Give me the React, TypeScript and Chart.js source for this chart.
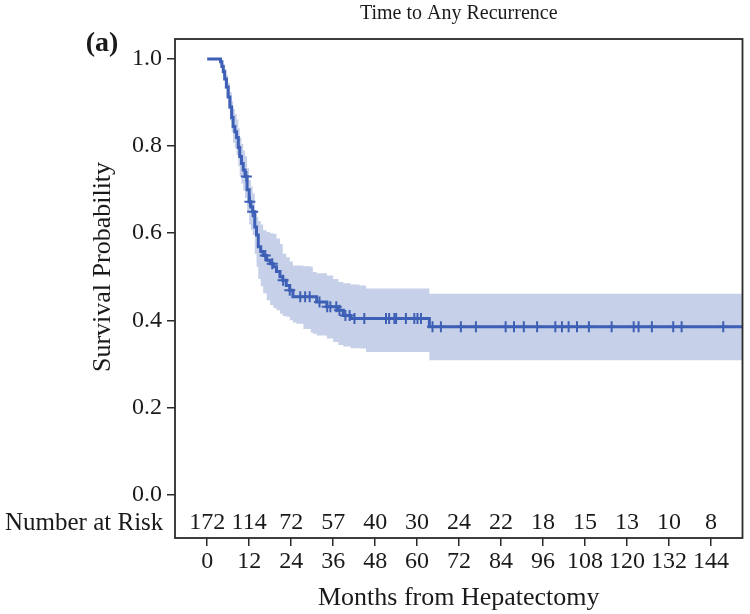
import { useEffect, useRef } from 'react';
import { Chart, registerables } from 'chart.js';

Chart.register(...registerables);

// Kaplan-Meier estimate (months, survival)
const times = [0, 3.8, 4.2, 4.6, 5.0, 5.5, 6.0, 6.5, 7.0, 7.4, 7.9, 8.4, 8.9, 9.3, 9.8, 10.3, 10.8, 11.4, 12.0, 12.5, 13.0, 13.6, 14.1, 14.6, 15.3, 16.0, 17.0, 18.0, 18.9, 19.8, 20.8, 21.6, 22.6, 23.6, 24.5, 25.5, 27.5, 29.6, 30.2, 31.3, 34.2, 36.0, 37.5, 38.9, 41.0, 43.5, 45.4, 63.5, 153];
const survival = [1, 0.994, 0.983, 0.971, 0.954, 0.936, 0.913, 0.890, 0.866, 0.845, 0.833, 0.820, 0.797, 0.776, 0.760, 0.745, 0.730, 0.700, 0.672, 0.660, 0.649, 0.614, 0.596, 0.569, 0.558, 0.549, 0.538, 0.530, 0.523, 0.512, 0.500, 0.492, 0.480, 0.469, 0.454, 0.454, 0.454, 0.454, 0.454, 0.442, 0.431, 0.431, 0.423, 0.411, 0.404, 0.404, 0.404, 0.385, 0.385];
const upperCI = [1, 0.999, 0.994, 0.988, 0.977, 0.963, 0.945, 0.924, 0.903, 0.885, 0.874, 0.861, 0.841, 0.820, 0.805, 0.790, 0.777, 0.749, 0.722, 0.707, 0.691, 0.652, 0.637, 0.628, 0.620, 0.607, 0.603, 0.600, 0.598, 0.588, 0.575, 0.553, 0.545, 0.535, 0.526, 0.526, 0.524, 0.523, 0.511, 0.508, 0.503, 0.495, 0.488, 0.485, 0.482, 0.480, 0.473, 0.461, 0.461];
const lowerCI = [1, 0.986, 0.970, 0.954, 0.932, 0.911, 0.885, 0.859, 0.832, 0.808, 0.795, 0.779, 0.754, 0.730, 0.714, 0.698, 0.681, 0.649, 0.620, 0.608, 0.596, 0.552, 0.523, 0.495, 0.478, 0.462, 0.446, 0.435, 0.428, 0.423, 0.415, 0.410, 0.408, 0.400, 0.395, 0.392, 0.380, 0.372, 0.369, 0.365, 0.358, 0.350, 0.343, 0.340, 0.336, 0.335, 0.327, 0.308, 0.308];

// censoring times (months)
const censorTimes = [11.2, 12.2, 13.0, 16.6, 18.6, 21.7, 23.6, 26.6, 28.0, 29.3, 32.1, 34.3, 35.2, 36.9, 37.8, 39.5, 40.7, 42.1, 44.9, 51.1, 52.0, 53.5, 54.0, 56.8, 59.2, 60.1, 61.1, 64.4, 66.8, 72.5, 76.8, 85.3, 87.7, 90.5, 94.3, 99.5, 101.4, 103.3, 105.7, 109.1, 115.6, 121.9, 123.3, 127.1, 133.2, 135.6, 147.5];

const xTicks = [0, 12, 24, 36, 48, 60, 72, 84, 96, 108, 120, 132, 144];
const atRisk = [172, 114, 72, 57, 40, 30, 24, 22, 18, 15, 13, 10, 8];
const yTicks = [0, 0.2, 0.4, 0.6, 0.8, 1.0];

const LINE = '#3d5fb5';
const BAND = '#c6d0e8';
const FONT = "'Liberation Serif', 'Times New Roman', serif";

function survAt(t: number): number {
  let v = survival[0];
  for (let i = 0; i < times.length; i++) {
    if (times[i] <= t) v = survival[i];
  }
  return v;
}

const decor = {
  id: 'decor',
  afterDatasetsDraw(chart: any) {
    const { ctx, chartArea } = chart;
    ctx.save();
    ctx.strokeStyle = '#2a2a2a';
    ctx.lineWidth = 1.8;
    ctx.strokeRect(chartArea.left, chartArea.top, chartArea.right - chartArea.left, chartArea.bottom - chartArea.top);
    ctx.restore();
  },
  afterDraw(chart: any) {
    const { ctx, chartArea, scales } = chart;
    ctx.save();
    ctx.fillStyle = '#1a1a1a';
    // title
    ctx.font = `20px ${FONT}`;
    ctx.textAlign = 'center';
    ctx.textBaseline = 'middle';
    ctx.fillText('Time to Any Recurrence', (chartArea.left + chartArea.right) / 2, 14);
    // panel label
    ctx.font = `bold 28px ${FONT}`;
    ctx.fillText('(a)', 102, 44);
    // number at risk
    const rowY = chartArea.bottom - 15;
    ctx.font = `24px ${FONT}`;
    atRisk.forEach((n, i) => {
      ctx.fillText(String(n), scales.x.getPixelForValue(xTicks[i]), rowY);
    });
    ctx.font = `25px ${FONT}`;
    ctx.textAlign = 'left';
    ctx.fillText('Number at Risk', 5, rowY);
    // axis titles
    ctx.textAlign = 'center';
    ctx.font = `26px ${FONT}`;
    ctx.fillText('Months from Hepatectomy', (chartArea.left + chartArea.right) / 2, 598);
    ctx.translate(103, 267);
    ctx.rotate(-Math.PI / 2);
    ctx.fillText('Survival Probability', 0, 0);
    ctx.restore();
  },
};

export default function App() {
  const ref = useRef<HTMLCanvasElement>(null);
  useEffect(() => {
    const pts = (arr: number[]) => times.map((t, i) => ({ x: t, y: arr[i] }));
    const chart = new Chart(ref.current!, {
      type: 'line',
      data: {
        datasets: [
          {
            data: pts(upperCI),
            stepped: 'before',
            borderWidth: 0,
            borderColor: 'rgba(0,0,0,0)',
            backgroundColor: BAND,
            pointRadius: 0,
            fill: '+1',
            order: 3,
          },
          {
            data: pts(lowerCI),
            stepped: 'before',
            borderWidth: 0,
            borderColor: 'rgba(0,0,0,0)',
            pointRadius: 0,
            fill: false,
            order: 3,
          },
          {
            data: pts(survival),
            stepped: 'before',
            borderWidth: 3,
            borderColor: LINE,
            pointRadius: 0,
            fill: false,
            order: 2,
          },
          {
            data: censorTimes.map((t) => ({ x: t, y: survAt(t) })),
            showLine: false,
            pointStyle: 'cross',
            pointRadius: 5.5,
            pointBorderWidth: 2,
            pointBorderColor: LINE,
            borderColor: LINE,
            fill: false,
            order: 1,
          },
        ] as any,
      },
      plugins: [decor],
      options: {
        responsive: false,
        animation: false,
        devicePixelRatio: 1,
        layout: { padding: { top: 39, right: 5, left: 0, bottom: 0 } },
        plugins: { legend: { display: false }, tooltip: { enabled: false } },
        scales: {
          x: {
            type: 'linear',
            min: -9.2,
            max: 153,
            afterBuildTicks: (s: any) => {
              s.ticks = xTicks.map((v) => ({ value: v }));
            },
            afterFit: (s: any) => {
              s.height = 76;
            },
            grid: { drawOnChartArea: false, drawTicks: true, tickLength: 8, color: '#2a2a2a', lineWidth: 1.5 },
            border: { display: false },
            ticks: {
              font: { family: FONT, size: 24 },
              color: '#1a1a1a',
              padding: 1,
              maxRotation: 0,
              autoSkip: false,
            },
          },
          y: {
            type: 'linear',
            min: -0.1,
            max: 1.046,
            afterBuildTicks: (s: any) => {
              s.ticks = yTicks.map((v) => ({ value: v }));
            },
            afterFit: (s: any) => {
              s.width = 175;
            },
            grid: { drawOnChartArea: false, drawTicks: true, tickLength: 8, color: '#2a2a2a', lineWidth: 1.5 },
            border: { display: false },
            ticks: {
              font: { family: FONT, size: 24 },
              color: '#1a1a1a',
              padding: 5,
              autoSkip: false,
              callback: (v: any) => Number(v).toFixed(1),
            },
          },
        },
      },
    } as any);
    return () => chart.destroy();
  }, []);
  return (
    <div style={{ position: 'fixed', left: 0, top: 0, width: 750, height: 614, background: '#fff' }}>
      <canvas ref={ref} width={750} height={614} style={{ display: 'block' }} />
    </div>
  );
}
